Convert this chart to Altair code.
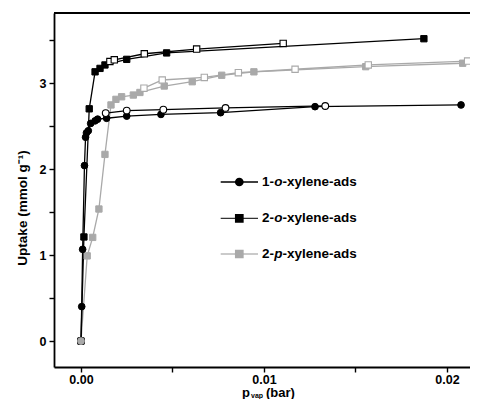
import altair as alt
import pandas as pd

# ---- data ----
o1_ads_x = [0.0, 0.00004, 0.00009, 0.00019, 0.00025, 0.0003, 0.0004, 0.00053, 0.00077, 0.00091, 0.0014, 0.0025, 0.00437, 0.00763, 0.01279, 0.02077]
o1_ads_y = [0.0, 0.40, 1.066, 2.04, 2.37, 2.42, 2.445, 2.53, 2.56, 2.58, 2.59, 2.615, 2.635, 2.655, 2.725, 2.745]
o1_des_x = [0.00135, 0.0025, 0.0045, 0.0079, 0.01335]
o1_des_y = [2.65, 2.68, 2.69, 2.71, 2.733]

o2_ads_x = [0.0, 0.00016, 0.00045, 0.00077, 0.00104, 0.00131, 0.0025, 0.00468, 0.01874]
o2_ads_y = [0.0, 1.21, 2.70, 3.13, 3.17, 3.21, 3.275, 3.35, 3.515]
o2_des_x = [0.00158, 0.00182, 0.00346, 0.00632, 0.01105]
o2_des_y = [3.25, 3.27, 3.34, 3.395, 3.46]

p2_ads_x = [0.0, 0.00034, 0.00064, 0.00098, 0.00131, 0.00164, 0.00191, 0.00222, 0.00286, 0.00322, 0.00455, 0.00608, 0.00769, 0.00945, 0.01556, 0.02086]
p2_ads_y = [0.0, 0.99, 1.205, 1.535, 2.17, 2.745, 2.81, 2.84, 2.86, 2.89, 2.965, 3.015, 3.09, 3.13, 3.19, 3.23]
p2_des_x = [0.00344, 0.00444, 0.00674, 0.0086, 0.0117, 0.0157, 0.02113]
p2_des_y = [2.94, 3.035, 3.065, 3.12, 3.16, 3.21, 3.255]

origin_x = [0.0]
origin_y = [0.0]

x_ticks = [0.0, 0.005, 0.01, 0.015, 0.02]
y_ticks = [0, 0.5, 1, 1.5, 2, 2.5, 3, 3.5]

BLACK = "#000000"
GRAY = "#a9a9a9"
FONT = "Liberation Sans"

W, H = 416, 354


def frame(xs, ys):
    return pd.DataFrame({"x": xs, "y": ys})


xs = alt.Scale(domain=[-0.001475, 0.02126], nice=False, zero=False)
ys = alt.Scale(domain=[-0.302, 3.814], nice=False, zero=False)

xax = alt.Axis(values=x_ticks, labelExpr="round(datum.value*1000) % 10 == 0 ? format(datum.value, '.2f') : ''",
               title=None, grid=False, tickSize=5, labelPadding=1)
yax = alt.Axis(values=y_ticks, labelExpr="datum.value % 1 == 0 ? format(datum.value, 'd') : ''",
               title=None, grid=False, tickSize=5, labelPadding=3)


def enc(ch):
    return ch.encode(x=alt.X("x:Q", scale=xs, axis=xax), y=alt.Y("y:Q", scale=ys, axis=yax))


def line(df, color, width=1.3):
    return enc(alt.Chart(df).mark_line(color=color, strokeWidth=width, clip=True))


def pts(df, shape, color, filled=True, size=45):
    if filled:
        m = alt.Chart(df).mark_point(shape=shape, filled=True, fill=color, stroke=color, strokeWidth=1,
                                     size=size, opacity=1)
    else:
        m = alt.Chart(df).mark_point(shape=shape, filled=True, fill="white", stroke=color, strokeWidth=1.1,
                                     size=size, opacity=1)
    return enc(m)


p2a = frame(p2_ads_x, p2_ads_y)
p2d = frame(p2_des_x, p2_des_y)
o1a = frame(o1_ads_x, o1_ads_y)
o1d = frame(o1_des_x, o1_des_y)
o2a = frame(o2_ads_x, o2_ads_y)
o2d = frame(o2_des_x, o2_des_y)
org = frame(origin_x, origin_y)

layers = [
    line(p2a, GRAY), line(p2d, GRAY),
    line(o1a, BLACK), line(o1d, BLACK),
    line(o2a, BLACK), line(o2d, BLACK),
    pts(p2a, "square", GRAY, size=40), pts(p2d, "square", GRAY, filled=False, size=40),
    pts(o1a, "circle", BLACK), pts(o1d, "circle", BLACK, filled=False),
    pts(o2a, "square", BLACK, size=40), pts(o2d, "square", BLACK, filled=False, size=40),
    pts(org, "circle", GRAY, size=45),
]

one = pd.DataFrame({"a": [0]})

# top frame line
layers.append(alt.Chart(one).mark_rule(color=BLACK, strokeWidth=1.8).encode(
    x=alt.value(0), x2=alt.value(W), y=alt.value(0)))


def txt(t, x, y, size=13.5, style="normal", weight="bold", align="left", baseline="middle", angle=0):
    kw = dict(text=t, font=FONT, fontSize=size, fontWeight=weight, fontStyle=style, align=align,
              baseline=baseline, color=BLACK)
    if angle:
        kw["angle"] = angle
    return alt.Chart(one).mark_text(**kw).encode(x=alt.value(x), y=alt.value(y))


# legend
leg_rows = [
    (169, "1-", "o", "circle", BLACK, BLACK),
    (205.3, "2-", "o", "square", BLACK, "#333333"),
    (241, "2-", "p", "square", GRAY, "#b8b8b8"),
]
for yy, pre, it, shp, mc, lc in leg_rows:
    layers.append(alt.Chart(one).mark_rule(color=lc, strokeWidth=1.3).encode(
        x=alt.value(166.7), x2=alt.value(204), y=alt.value(yy)))
    layers.append(alt.Chart(one).mark_point(shape=shp, filled=True, fill=mc, stroke=mc, size=45, opacity=1).encode(
        x=alt.value(185.3), y=alt.value(yy)))
    layers.append(txt(pre, 208, yy))
    layers.append(txt(it, 220.2, yy, style="italic"))
    layers.append(txt("-xylene-ads", 228.5, yy))

# axis titles
layers.append(txt("Uptake (mmol g\u207b\u00b9)", -31, 195, size=13.5, align="center", angle=270))
layers.append(txt("p", 188, 384, size=13, baseline="alphabetic"))
layers.append(txt("vap", 197, 384.5, size=7, baseline="alphabetic"))
layers.append(txt("(bar)", 212, 384, size=13, baseline="alphabetic"))

chart = alt.layer(*layers).properties(
    width=W, height=H,
    autosize=alt.AutoSizeParams(type="none"),
    padding={"left": 46, "top": 5, "right": 0, "bottom": 32},
).configure_view(stroke=None).configure_axis(
    labelFont=FONT, labelFontSize=12.5, labelFontWeight="bold", labelColor=BLACK,
    domainColor=BLACK, domainWidth=1.8, tickColor=BLACK, tickWidth=1.4,
)

chart.save("out.html", embed_options={"renderer": "svg", "actions": False})
